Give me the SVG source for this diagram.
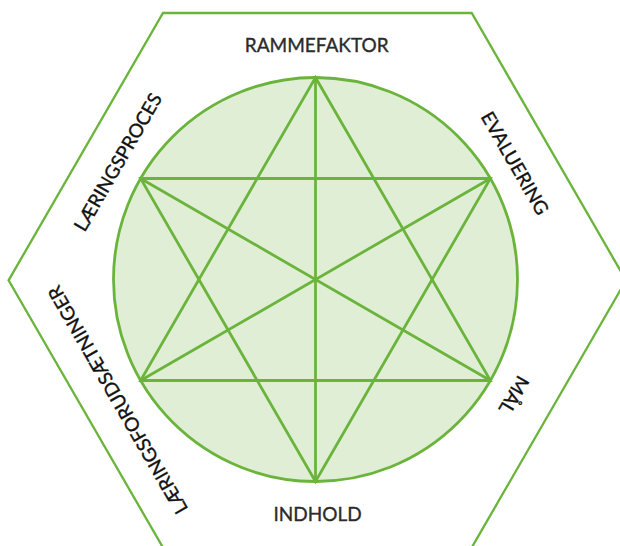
<svg xmlns="http://www.w3.org/2000/svg" width="620" height="546" viewBox="0 0 620 546">
  <style>
    .frame { fill: none; stroke: #6ab43c; stroke-width: 2.3; stroke-linejoin: miter; }
    .disc { fill: #e0eed6; stroke: #6ab43c; stroke-width: 2.8; }
    .ln { stroke: #6ab43c; stroke-width: 2.8; stroke-linecap: round; fill: none; }
    .lbl { font-family: "Lato", "Noto Sans", "DejaVu Sans", sans-serif; font-size: 19px; fill: #2b2b2b; stroke: #2b2b2b; stroke-width: 0.35; text-anchor: middle; }
    .rot { font-family: "Lato", "Noto Sans", "DejaVu Sans", sans-serif; font-size: 19px; fill: #111111; stroke: #111111; stroke-width: 0.35; text-anchor: middle; }
  </style>
  <rect x="0" y="0" width="620" height="546" fill="#ffffff"/>
  <g id="hexagon">
    <polygon class="frame" points="163,13 471.7,13 626,280.3 471.7,547.6 163,547.6 8.6,280.3"/>
  </g>
  <g id="circle">
    <circle class="disc" cx="315.5" cy="279.5" r="202"/>
  </g>
  <g id="connectors">
    <line class="ln" x1="315.5" y1="77.5" x2="315.5" y2="481.5"/>
    <line class="ln" x1="140.6" y1="178.5" x2="490.4" y2="178.5"/>
    <line class="ln" x1="140.6" y1="380.5" x2="490.4" y2="380.5"/>
    <line class="ln" x1="140.6" y1="178.5" x2="490.4" y2="380.5"/>
    <line class="ln" x1="490.4" y1="178.5" x2="140.6" y2="380.5"/>
    <polygon class="ln" points="315.5,77.5 490.4,380.5 140.6,380.5"/>
    <polygon class="ln" points="315.5,481.5 140.6,178.5 490.4,178.5"/>
  </g>
  <g id="label-rammefaktor">
    <text class="lbl" x="316.7" y="52.3">RAMMEFAKTOR</text>
  </g>
  <g id="label-indhold">
    <text class="lbl" x="317.5" y="520.7">INDHOLD</text>
  </g>
  <g id="label-laeringsproces">
    <text class="rot" transform="translate(123.8,165.4) rotate(-60)" x="0" y="0">LÆRINGSPROCES</text>
  </g>
  <g id="label-evaluering">
    <text class="rot" transform="translate(509.1,166.6) rotate(60)" x="0" y="0">EVALUERING</text>
  </g>
  <g id="label-maal">
    <text class="rot" transform="translate(508.3,391.6) rotate(120)" x="0" y="0">MÅL</text>
  </g>
  <g id="label-laeringsforudsaetninger">
    <text class="rot" transform="translate(123.7,396.6) rotate(-120)" x="0" y="0">LÆRINGSFORUDSÆTNINGER</text>
  </g>
</svg>
